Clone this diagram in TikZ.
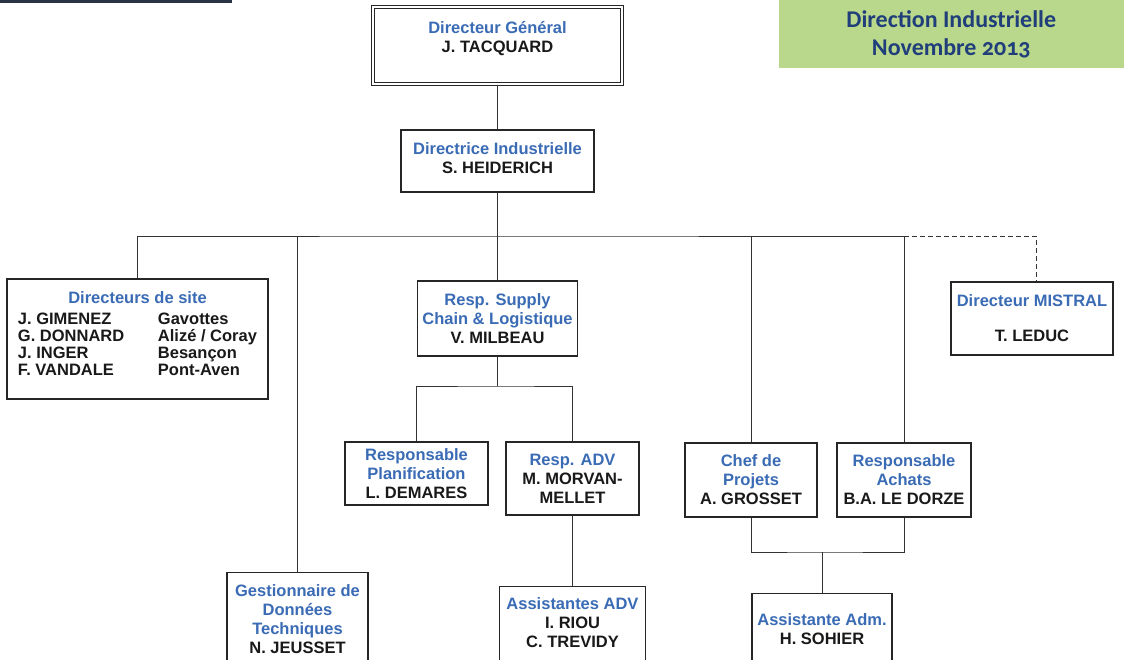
\documentclass[tikz,border=0pt]{standalone}
\usepackage{fontspec}
\setmainfont{Liberation Sans}
\newfontfamily\headfont[Numbers=OldStyle]{Carlito}
\usetikzlibrary{shapes}
\definecolor{titleblue}{RGB}{58,107,181}
\definecolor{headgreen}{RGB}{185,216,140}
\definecolor{headblue}{RGB}{32,62,122}
\definecolor{barblue}{RGB}{40,52,70}
\newcommand{\poste}[1]{\textcolor{titleblue}{#1}}
\tikzstyle{box}=[rectangle,draw=black!85,line width=1.2pt,fill=white,align=center,inner sep=2pt,font=\fontsize{16.5}{19}\selectfont\bfseries,text=black!90]
\tikzstyle{lowbox}=[box,anchor=north,text depth=70pt]
\tikzstyle{lien}=[draw=black!80,line width=1pt]

\begin{document}
\begin{tikzpicture}[x=1pt,y=-1pt]
\clip (0,0) rectangle (1124,659);
% bandeau du haut
\fill[barblue] (0,0) rectangle (232,3);
\node[fill=headgreen,minimum width=345,minimum height=68,anchor=north east,inner sep=0pt,align=center,text=headblue,font=\headfont\bfseries\fontsize{24}{28}\selectfont] (titre) at (1124,0) {Direction Industrielle\\Novembre 2013};
% direction
\node[box,double,line width=1pt,double distance=1.5pt,minimum width=249,minimum height=77,text depth=17pt] (dg) at (497.5,45.5) {\poste{Directeur Général}\\J. TACQUARD};
\node[box,minimum width=193,minimum height=62,text depth=6pt] (di) at (497.5,161) {\poste{Directrice Industrielle}\\S. HEIDERICH};
% premier niveau
\node[box,minimum width=261,minimum height=120,text depth=11pt] (sites) at (137.5,339) {\def\arraystretch{0.9}\begin{tabular}[b]{@{}p{140pt}@{}l@{}}\multicolumn{2}{c}{\poste{Directeurs de site}}\\[4pt]J. GIMENEZ & Gavottes\\G. DONNARD & Alizé / Coray\\J. INGER & Besançon\\F. VANDALE & Pont-Aven\end{tabular}};
\node[box,minimum width=160,minimum height=75] (scl) at (497.5,318.5) {\poste{Resp. Supply}\\\poste{Chain \& Logistique}\\V. MILBEAU};
\node[box,minimum width=162,minimum height=73] (mistral) at (1032,318.5) {\poste{Directeur MISTRAL}\\[16pt]T. LEDUC};
\node[box,minimum width=132,minimum height=74] (chef) at (751,480) {\poste{Chef de}\\\poste{Projets}\\A. GROSSET};
\node[box,minimum width=134,minimum height=74] (achats) at (904,480) {\poste{Responsable}\\\poste{Achats}\\B.A. LE DORZE};
\node[lowbox,minimum width=141,inner ysep=12pt] (gdt) at (297.5,572) {\poste{Gestionnaire de}\\\poste{Données}\\\poste{Techniques}\\N. JEUSSET};
% supply chain
\node[box,minimum width=143,minimum height=63] (plan) at (416.5,473.5) {\poste{Responsable}\\\poste{Planification}\\L. DEMARES};
\node[box,minimum width=133,minimum height=73] (adv) at (572.5,478.5) {\poste{Resp. ADV}\\M. MORVAN-\\MELLET};
\node[lowbox,minimum width=146,inner ysep=11pt] (aadv) at (572.5,586) {\poste{Assistantes ADV}\\I. RIOU\\C. TREVIDY};
\node[lowbox,minimum width=140,inner ysep=20pt] (aadm) at (822,593) {\poste{Assistante Adm.}\\H. SOHIER};
% liens
\coordinate (bus) at (497.5,236);
\coordinate (sbus) at (497.5,386);
\coordinate (pbus) at (822,552);
\draw[lien] (dg) -- (di);
\draw[lien] (di) -- (bus);
\draw[lien] (sites.north) |- (bus) -| (achats.north);
\draw[lien] (gdt.north) -- (gdt.north |- bus);
\draw[lien] (scl) -- (bus);
\draw[lien] (chef.north) -- (chef.north |- bus);
\draw[lien,dash pattern=on 5pt off 3pt] (achats.north |- bus) -| ([xshift=4pt]mistral.north);
\draw[lien] (scl) -- (sbus);
\draw[lien] (plan.north) |- (sbus) -| (adv.north);
\draw[lien] (adv) -- (aadv);
\draw[lien] (chef.south) |- (pbus) -| (achats.south);
\draw[lien] (pbus) -- (aadm);
\end{tikzpicture}
\end{document}
